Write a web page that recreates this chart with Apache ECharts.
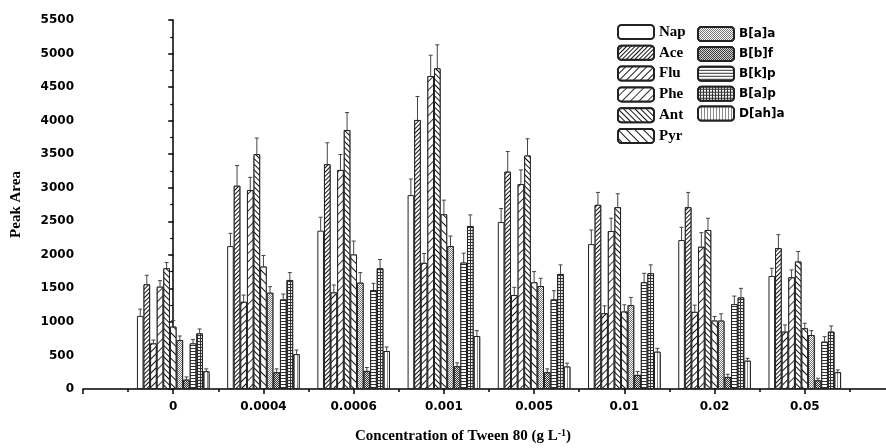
<!DOCTYPE html>
<html>
<head>
<meta charset="utf-8">
<script src="https://cdn.jsdelivr.net/npm/echarts@6/dist/echarts.min.js"></script>
<style>html,body{margin:0;padding:0;background:#fff}#c{width:886px;height:448px}</style>
</head>
<body>
<div id="c"></div>
<script>
// ---- data ----
const categories = ['0', '0.0004', '0.0006', '0.001', '0.005', '0.01', '0.02', '0.05'];
const seriesNames = ['Nap', 'Ace', 'Flu', 'Phe', 'Ant', 'Pyr', 'B[a]a', 'B[b]f', 'B[k]p', 'B[a]p', 'D[ah]a'];
const yTicks = { min: 0, max: 5500, interval: 500 };

const nap    = [1090, 2130, 2360, 2890, 2490, 2160, 2220, 1685];
const napErr = [100, 190, 200, 240, 200, 210, 190, 115];
const ace    = [1560, 3030, 3350, 4010, 3240, 2745, 2710, 2100];
const aceErr = [135, 300, 320, 350, 300, 185, 220, 200];
const flu    = [680, 1300, 1440, 1880, 1400, 1130, 1150, 855];
const fluErr = [50, 100, 110, 140, 115, 110, 100, 100];
const phe    = [1525, 2965, 3265, 4665, 3055, 2355, 2120, 1665];
const pheErr = [90, 190, 230, 310, 210, 190, 210, 110];
const ant    = [1800, 3500, 3860, 4780, 3480, 2710, 2370, 1900];
const antErr = [85, 240, 260, 350, 250, 200, 175, 150];
const pyr    = [930, 1825, 2005, 2605, 1590, 1155, 1020, 905];
const pyrErr = [90, 165, 200, 210, 160, 100, 60, 75];
const baa    = [730, 1435, 1585, 2130, 1535, 1250, 1020, 805];
const baaErr = [60, 90, 150, 150, 115, 115, 100, 65];
const bbf    = [140, 250, 270, 340, 250, 210, 180, 130];
const bbfErr = [40, 50, 50, 50, 50, 50, 40, 30];
const bkp    = [680, 1335, 1475, 1885, 1335, 1590, 1265, 705];
const bkpErr = [60, 80, 100, 140, 130, 135, 120, 75];
const bap    = [830, 1625, 1800, 2430, 1715, 1725, 1365, 855];
const bapErr = [65, 110, 130, 165, 135, 125, 135, 85];
const dah    = [265, 520, 566, 790, 335, 556, 422, 250];
const dahErr = [35, 60, 60, 80, 50, 50, 35, 35];

const values = [nap, ace, flu, phe, ant, pyr, baa, bbf, bkp, bap, dah];
const errors = [napErr, aceErr, fluErr, pheErr, antErr, pyrErr, baaErr, bbfErr, bkpErr, bapErr, dahErr];

// ---- styles ----
const BAR_W = 6.6;
const line = (gap, rot, color) => ({ symbol: 'rect', symbolSize: 1, dashArrayX: [1, 0], dashArrayY: [1, gap], rotation: rot, color: color || '#111', backgroundColor: '#fff' });
const decals = [
  null,
  line(2, -Math.PI / 4),
  line(3.5, -Math.PI / 4),
  line(5, -Math.PI / 4, '#333'),
  line(2.5, Math.PI / 4),
  line(4.5, Math.PI / 4),
  { symbol: 'rect', symbolSize: 1, dashArrayX: [[1, 1], [0, 1, 1, 0]], dashArrayY: [1, 0], rotation: 0, color: '#777', backgroundColor: '#fff' },
  { symbol: 'rect', symbolSize: 1, dashArrayX: [[1, 1], [0, 1, 1, 0]], dashArrayY: [1, 0], rotation: 0, color: '#333', backgroundColor: '#ddd' },
  line(2, 0, '#333'),
  { symbol: 'rect', symbolSize: 1, dashArrayX: [2, 1], dashArrayY: [2, 1], rotation: 0, color: '#eee', backgroundColor: '#333' },
  { symbol: 'rect', symbolSize: 1, dashArrayX: [1, 1.5], dashArrayY: [1, 0], rotation: 0, color: '#888', backgroundColor: '#fff' }
];

const pad = arr => ['-'].concat(arr, ['-']);
const xCats = [''].concat(categories, ['']);

const barSeries = seriesNames.map((name, i) => {
  const style = { color: '#fff', borderColor: '#222', borderWidth: 1 };
  if (decals[i]) style.decal = decals[i];
  return {
    name, type: 'bar', xAxisIndex: 0, yAxisIndex: 0,
    barWidth: BAR_W, barGap: '0%',
    data: pad(values[i]), itemStyle: style, emphasis: { disabled: true }
  };
});

const errData = [];
values.forEach((arr, s) => arr.forEach((v, c) => errData.push([c + 1, s, v, errors[s][c]])));

const errSeries = {
  type: 'custom', xAxisIndex: 0, yAxisIndex: 0, z: 3,
  dimensions: ['x', 's', 'v', 'e'],
  encode: { x: 0, y: [2] },
  data: errData,
  renderItem(params, api) {
    const ci = api.value(0), si = api.value(1), v = api.value(2), e = api.value(3);
    const p0 = api.coord([ci, v]);
    const p1 = api.coord([ci, v + e]);
    const x = p0[0] + (si - 5) * BAR_W;
    const st = { stroke: '#444', lineWidth: 1 };
    return { type: 'group', children: [
      { type: 'line', shape: { x1: x, y1: p0[1], x2: x, y2: p1[1] }, style: st },
      { type: 'line', shape: { x1: x - 2, y1: p1[1], x2: x + 2, y2: p1[1] }, style: st }
    ]};
  }
};

const serifBold = { fontFamily: 'Liberation Serif', fontWeight: 'bold', color: '#000' };
const sansBold = { fontFamily: 'DejaVu Sans', fontWeight: 'bold', color: '#000' };

const chart = echarts.init(document.getElementById('c'), null, { renderer: 'canvas' });
chart.setOption({
  animation: false,
  backgroundColor: '#fff',
  grid: { left: 83, right: -9, top: 20, bottom: 59, containLabel: false, outerBoundsMode: 'none' },
  legend: [
    {
      orient: 'vertical', left: 612, top: 19, itemWidth: 36, itemHeight: 14, itemGap: 4.8,
      icon: 'roundRect', selectedMode: false,
      data: seriesNames.slice(0, 6).map(n => ({ name: n })),
      textStyle: Object.assign({ fontSize: 15, lineHeight: 14 }, serifBold)
    },
    {
      orient: 'vertical', left: 692, top: 21, itemWidth: 36, itemHeight: 14, itemGap: 3.9,
      icon: 'roundRect', selectedMode: false,
      data: seriesNames.slice(6).map(n => ({ name: n })),
      textStyle: Object.assign({ fontSize: 12, lineHeight: 14 }, sansBold)
    }
  ],
  xAxis: [
    {
      type: 'category', data: xCats, boundaryGap: false, position: 'bottom',
      axisLine: { show: true, lineStyle: { color: '#000', width: 1.5 } },
      axisTick: { show: true, length: 5, lineStyle: { color: '#000', width: 1.5 } },
      axisLabel: Object.assign({ fontSize: 12, margin: 12, interval: 0 }, sansBold),
      splitLine: { show: false }
    },
    {
      type: 'value', min: -1, max: 8, interval: 0.5, position: 'bottom',
      axisLine: { show: false },
      axisTick: { show: true, length: 3, lineStyle: { color: '#000', width: 1.5 } },
      axisLabel: { show: false },
      splitLine: { show: false }
    }
  ],
  yAxis: {
    type: 'value', min: yTicks.min, max: yTicks.max, interval: yTicks.interval,
    name: 'Peak Area', nameLocation: 'middle', nameGap: 59,
    nameTextStyle: Object.assign({ fontSize: 15 }, serifBold),
    axisLine: { show: true, lineStyle: { color: '#000', width: 1.5 } },
    axisTick: { show: true, length: 5, lineStyle: { color: '#000', width: 1.5 } },
    minorTick: { show: true, splitNumber: 2, length: 3, lineStyle: { color: '#000', width: 1.2 } },
    axisLabel: Object.assign({ fontSize: 12, margin: 9, formatter: v => String(v) }, sansBold),
    splitLine: { show: false }
  },
  graphic: [{
    type: 'text', x: 463, y: 436,
    style: {
      text: '{a|Concentration of Tween 80 (g L}{s|-1}{a|)}',
      align: 'center', verticalAlign: 'middle',
      rich: {
        a: Object.assign({ fontSize: 15 }, serifBold),
        s: Object.assign({ fontSize: 10, verticalAlign: 'top', padding: [0, 0, 6, 0] }, serifBold)
      }
    }
  }],
  series: barSeries.concat([errSeries])
});
</script>
</body>
</html>
